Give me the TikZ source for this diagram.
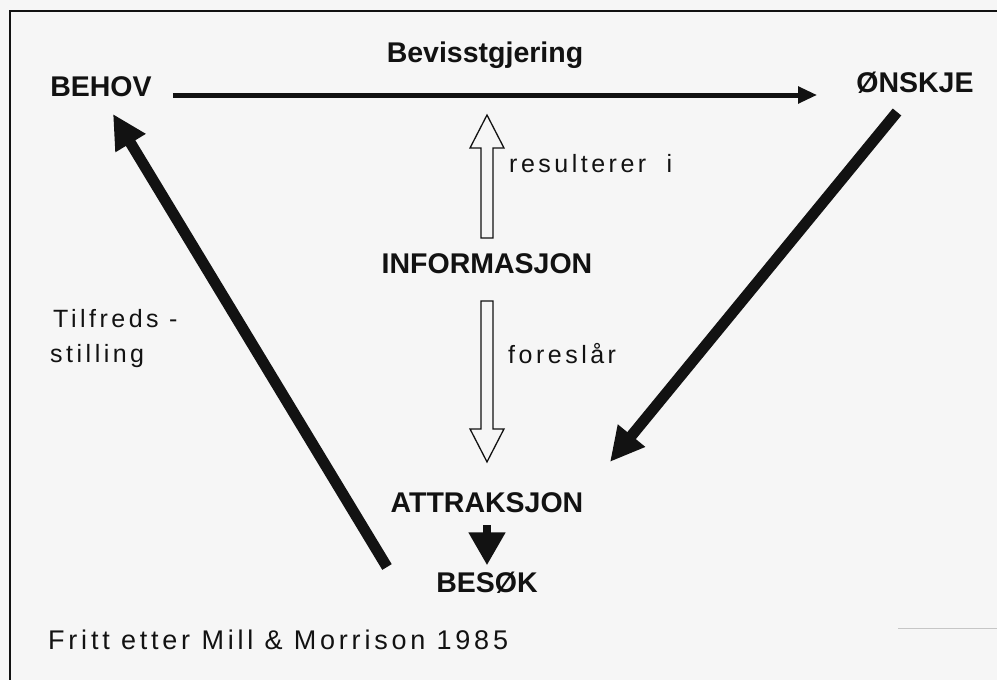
\documentclass[tikz,border=0pt]{standalone}
\usepackage{fontspec}
\setmainfont{Liberation Sans}
\newfontfamily\regfont[LetterSpace=14]{Liberation Sans}
\usetikzlibrary{arrows.meta,calc}
\definecolor{paper}{gray}{0.965}
\definecolor{ink}{gray}{0.07}
\newcommand{\hollowv}[3]{%
  \draw[hollow] let \p1=(#1), \p2=(#2) in
   (\x1-6pt,\y1) -- (\x1-6pt,\y2#3) -- (\x1-17pt,\y2#3) -- (\x1,\y2) --
   (\x1+17pt,\y2#3) -- (\x1+6pt,\y2#3) -- (\x1+6pt,\y1) -- cycle;}
\begin{document}
\begin{tikzpicture}[x=1pt,y=1pt,
  lbl/.style={inner sep=0pt,anchor=base,font=\fontsize{28.5pt}{32pt}\selectfont\bfseries,text=ink},
  txt/.style={inner sep=0pt,anchor=base west,font=\regfont\fontsize{25pt}{30pt}\selectfont,text=ink},
  flow/.style={draw=ink,line width=5pt,-{Triangle[length=19pt,width=16pt]}},
  bigflow/.style={draw=ink,line width=11pt,-{Triangle[length=34pt,width=33pt]}},
  hollow/.style={draw=ink,line width=1.3pt,fill=paper,line join=miter},
  dropflow/.style={draw=ink,line width=8pt,-{Triangle[length=33pt,width=35pt]}},
  frame/.style={draw=ink,line width=2pt}]
\useasboundingbox (0,-680) rectangle (997,0);
\fill[paper] (0,-680) rectangle (997,0);
\draw[frame] (1002,-11) -- (10,-11) -- (10,-685);
% labels
\node[lbl] (behov) at (101,-96) {BEHOV};
\node[lbl] (bevis) at (485,-62) {Bevisstgjering};
\node[lbl] (onskje) at (915,-92) {ØNSKJE};
\node[lbl] (info) at (487,-273) {INFORMASJON};
\node[lbl] (attr) at (487,-512) {ATTRAKSJON};
\node[lbl] (besok) at (487,-592) {BESØK};
\node[txt] (resul) at (509,-172) {resulterer\hspace{10pt} i};
\node[txt] (fores) at (508,-363) {foreslår};
\node[txt] (tilf1) at (53,-327) {Tilfreds -};
\node[txt] (tilf2) at (50,-362) {stilling};
\node[txt,font=\regfont\fontsize{27pt}{30pt}\selectfont] (fritt) at (48,-649) {Fritt etter Mill \& Morrison 1985};
% connectors
\draw[flow,shorten <=21pt,shorten >=39pt] ([yshift=1pt]behov.base east) -- ([yshift=1pt]behov.base east -| onskje.west);
\draw[bigflow] ([xshift=-18pt,yshift=-20pt]onskje.base) -- ([xshift=123pt,yshift=30pt]attr.north);
\draw[bigflow] ([xshift=-100pt,yshift=25pt]besok.base) -- ([xshift=12pt,yshift=-18pt]behov.base);
\coordinate (ub) at ([yshift=15pt]info.north);
\coordinate (ut) at ($(info.north |- bevis.base)+(0,-53)$);
\hollowv{ub}{ut}{-33pt}
\coordinate (db) at ([yshift=-28pt]info.base);
\coordinate (dt) at ([yshift=30pt]attr.north);
\hollowv{db}{dt}{+33pt}
\draw[dropflow] ([yshift=-13pt]attr.base) -- ([yshift=6pt]besok.north);
\draw[gray!45,line width=1pt] (898,-628) -- (1000,-628);
\end{tikzpicture}
\end{document}
